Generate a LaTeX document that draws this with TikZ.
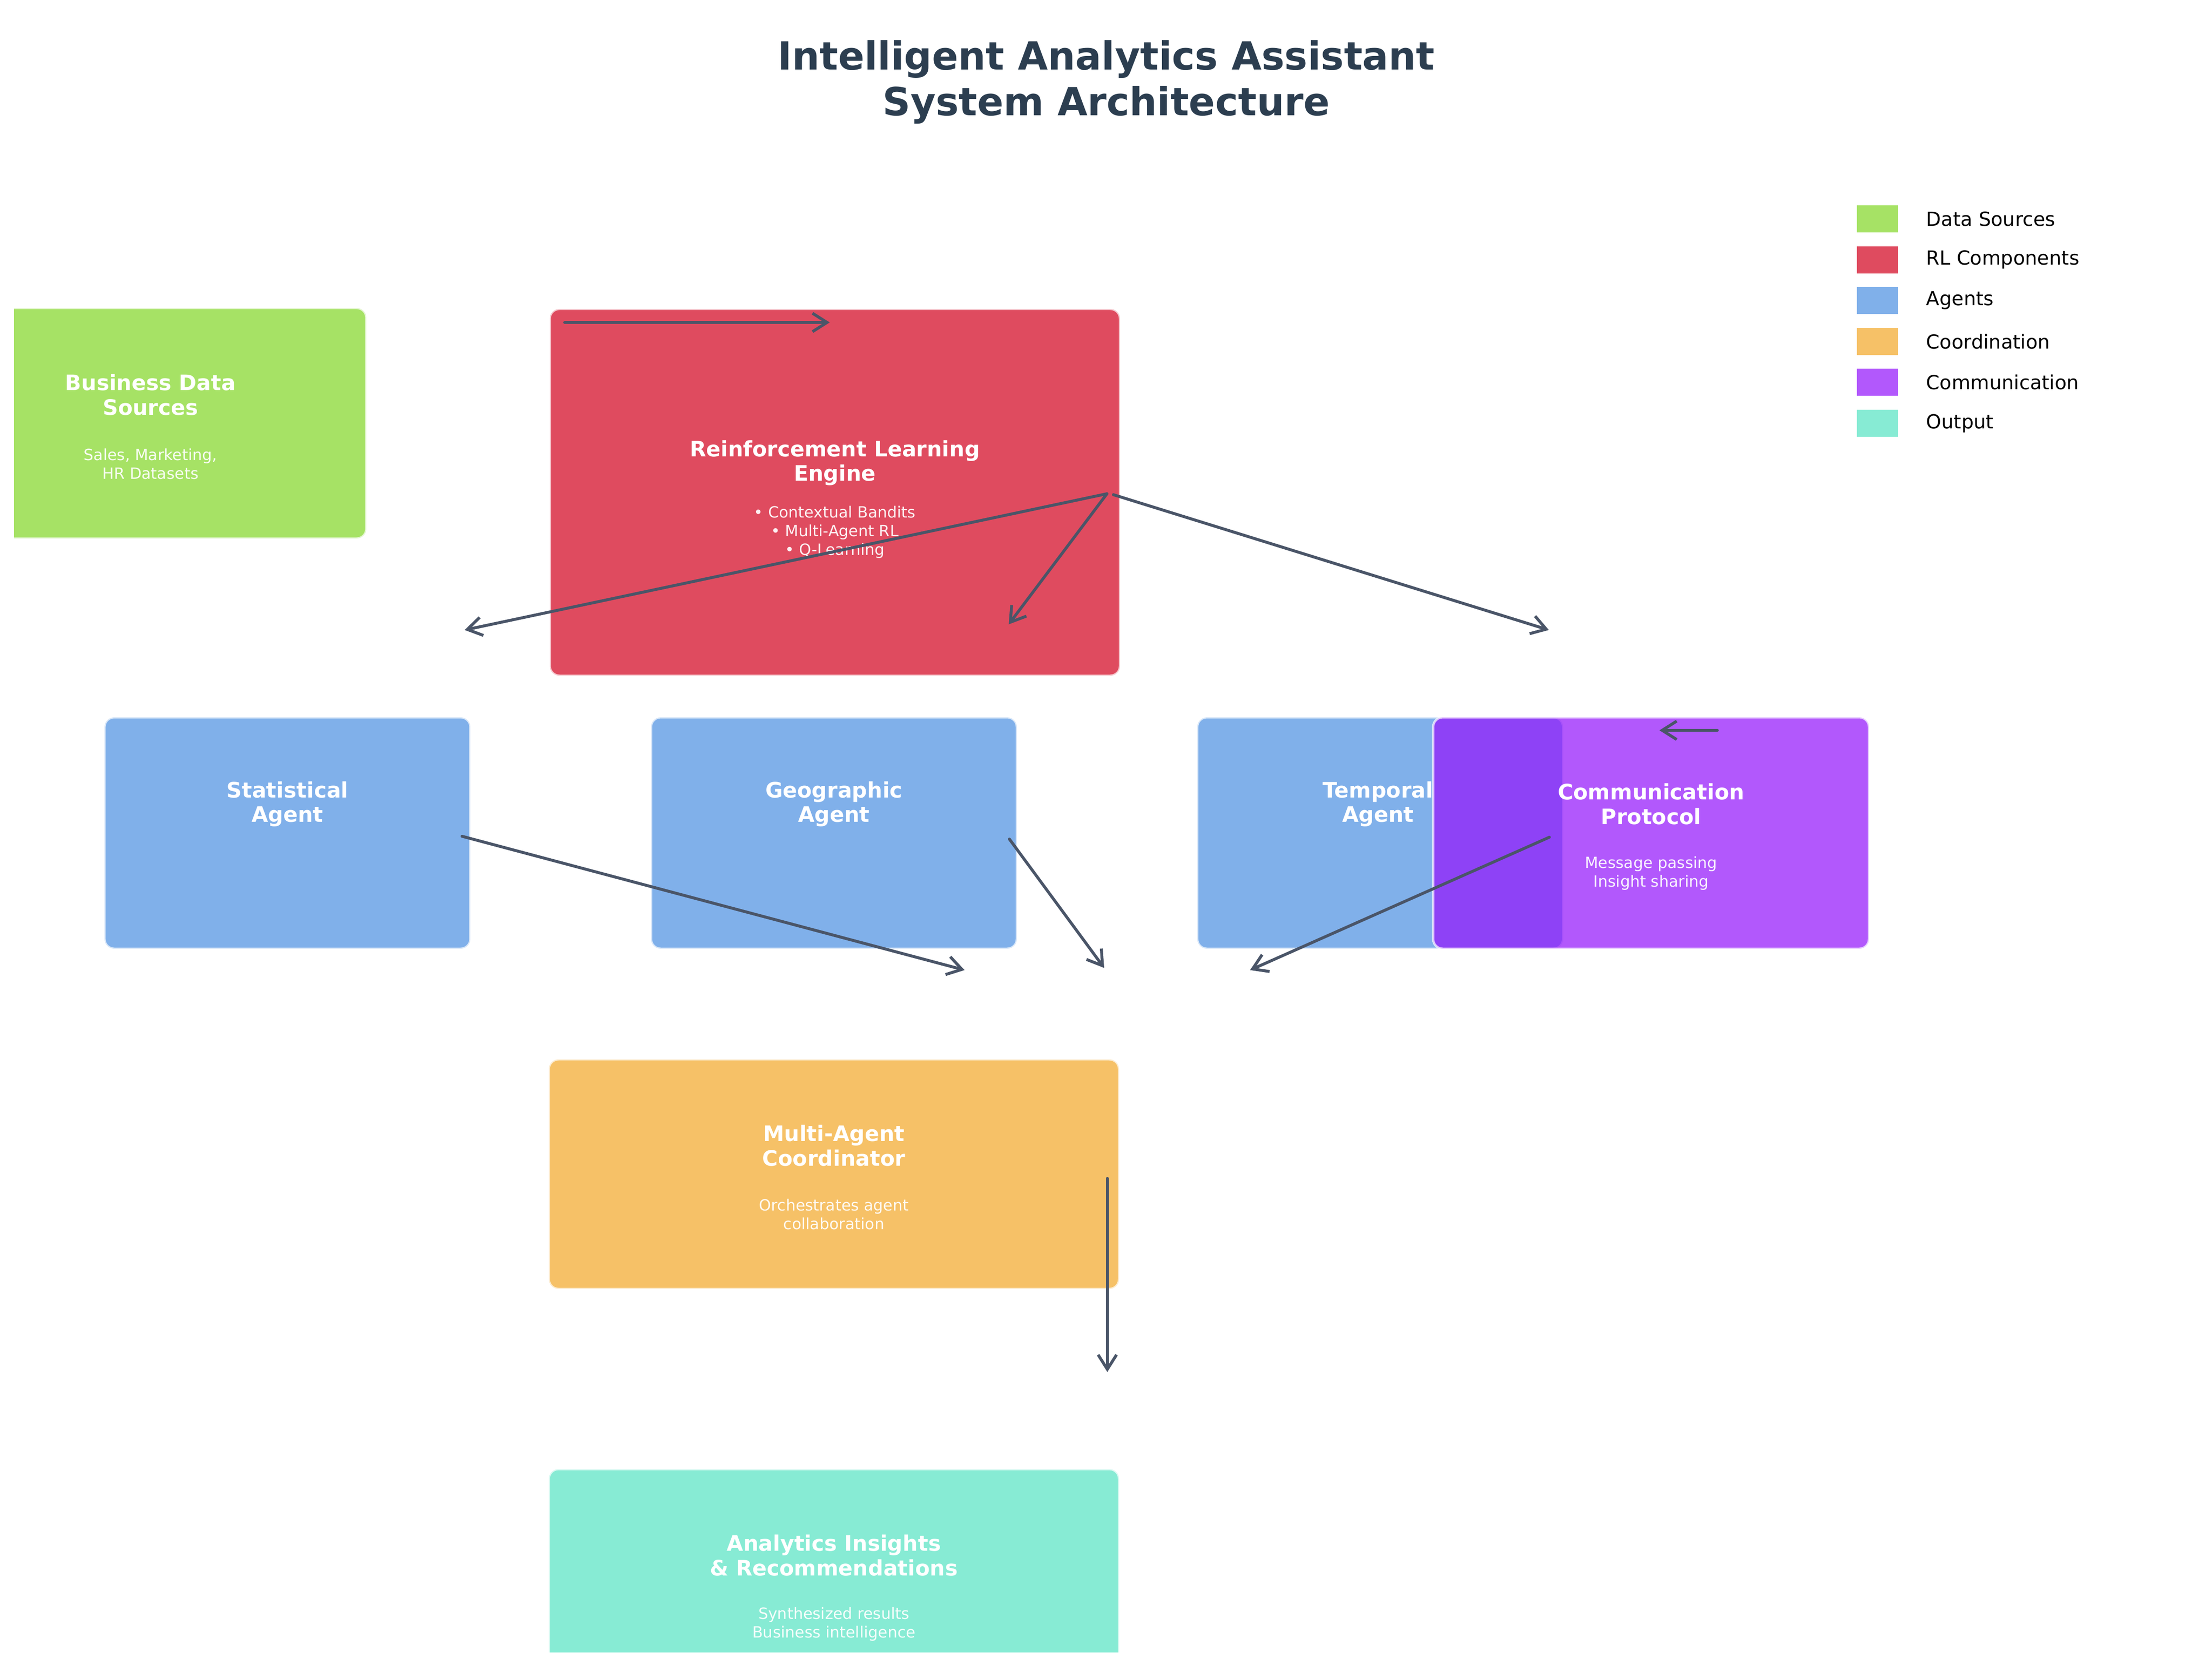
\documentclass[tikz,border=0pt]{standalone}
\usepackage{fontspec}
\setmainfont{DejaVu Sans}
\usepackage{tikz}
\usetikzlibrary{arrows.meta, positioning}
\definecolor{datacolor}{RGB}{166, 226, 101}
\definecolor{rlcolor}{RGB}{223, 75, 95}
\definecolor{agentcolor}{RGB}{128, 176, 234}
\definecolor{coordcolor}{RGB}{246, 193, 103}
\definecolor{commcolor}{RGB}{148, 24, 251}
\definecolor{outputcolor}{RGB}{135, 235, 212}
\definecolor{arrowcolor}{RGB}{74, 85, 104}
\definecolor{titlecolor}{RGB}{44, 62, 80}
\tikzset{
  box/.style={draw=white, draw opacity=0.7, line width=1.2pt, rounded corners=5pt, inner sep=0pt},
  boxtitle/.style={font=\fontsize{11}{12.6}\selectfont\bfseries, text=white, align=center, inner sep=0pt},
  boxsub/.style={font=\fontsize{8}{9.6}\selectfont, text=white, text opacity=0.92, align=center, inner sep=0pt},
  legendbox/.style={minimum width=0.745cm, minimum height=0.491cm, inner sep=0pt},
  legendtext/.style={font=\fontsize{10}{12}\selectfont, anchor=west, inner sep=0pt},
  flow/.style={-{Straight Barb[length=7.5pt, width=9.5pt]}, line width=1.5pt, line cap=round, color=arrowcolor}
}

\begin{document}
\begin{tikzpicture}
        \useasboundingbox (0,0) rectangle (40.132,-30.226);

        % Title
        \node[font=\fontsize{20}{23.5}\selectfont\bfseries, text=titlecolor, align=center] (title) at (20.07, -1.49) {Intelligent Analytics Assistant\\System Architecture};

        % Boxes (clipped to the plot area)
        \begin{scope}
        \clip (0.254, 0) rectangle (40.132, -29.98);
        \node[box, fill=datacolor, minimum width=7.832cm, minimum height=4.183cm] (data) at (2.730, -7.679) {};
        \node[box, fill=rlcolor, minimum width=10.346cm, minimum height=6.655cm] (rl) at (15.147, -8.932) {};

        \node[box, fill=agentcolor, minimum width=6.638cm, minimum height=4.199cm] (stat) at (5.215, -15.113) {};
        \node[box, fill=agentcolor, minimum width=6.638cm, minimum height=4.199cm] (geo) at (15.130, -15.113) {};
        \node[box, fill=agentcolor, minimum width=6.638cm, minimum height=4.199cm] (temp) at (25.040, -15.113) {};
        \node[box, fill=commcolor, fill opacity=0.72, minimum width=7.908cm, minimum height=4.199cm] (comm) at (29.955, -15.113) {};

        \node[box, fill=coordcolor, minimum width=10.346cm, minimum height=4.166cm] (coord) at (15.130, -21.302) {};
        \node[box, fill=outputcolor, minimum width=10.346cm, minimum height=4.166cm] (out) at (15.130, -28.736) {};
        \end{scope}

        % Box texts
        \node[boxtitle] (datatitle) at ([yshift=0.516cm]data.center) {Business Data\\Sources};
        \node[boxsub] (datasub) at ([yshift=-0.737cm]data.center) {Sales, Marketing,\\HR Datasets};

        \node[boxtitle] (rltitle) at ([yshift=0.533cm]rl.center) {Reinforcement Learning\\Engine};
        \node[boxsub] (rlsub) at ([yshift=-0.720cm]rl.center) {• Contextual Bandits\\• Multi-Agent RL\\• Q-Learning};

        \node[boxtitle] (stattitle) at ([yshift=0.525cm]stat.center) {Statistical\\Agent};
        \node[boxtitle] (geotitle) at ([yshift=0.525cm]geo.center) {Geographic\\Agent};
        \node[boxtitle] (temptitle) at ([xshift=-0.04cm, yshift=0.525cm]temp.center) {Temporal\\Agent};

        \node[boxtitle] (commtitle) at ([yshift=0.525cm]comm.center) {Communication\\Protocol};
        \node[boxsub] (commsub) at ([yshift=-0.728cm]comm.center) {Message passing\\Insight sharing};

        \node[boxtitle] (coordtitle) at ([yshift=0.516cm]coord.center) {Multi-Agent\\Coordinator};
        \node[boxsub] (coordsub) at ([yshift=-0.728cm]coord.center) {Orchestrates agent\\collaboration};

        \node[boxtitle] (outtitle) at ([yshift=0.516cm]out.center) {Analytics Insights\\\& Recommendations};
        \node[boxsub] (outsub) at ([yshift=-0.728cm]out.center) {Synthesized results\\Business intelligence};

        % Arrow end points
        \coordinate (datain) at (10.245, -5.850);
        \coordinate (rlin) at (15.054, -5.850);
        \coordinate (rlout) at (20.083, -8.958);
        \coordinate (rloutb) at (20.200, -8.975);
        \coordinate (statin) at (8.430, -11.430);
        \coordinate (geoin) at (18.300, -11.328);
        \coordinate (tempin) at (28.100, -11.430);
        \coordinate (commout) at (31.157, -13.250);
        \coordinate (commin) at (30.107, -13.250);
        \coordinate (statout) at (8.382, -15.172);
        \coordinate (geoout) at (18.313, -15.223);
        \coordinate (commdown) at (28.110, -15.189);
        \coordinate (coordinl) at (17.500, -17.600);
        \coordinate (coordinm) at (20.032, -17.560);
        \coordinate (coordinr) at (22.680, -17.600);
        \coordinate (coordout) at (20.090, -21.378);
        \coordinate (outin) at (20.090, -24.892);

        % Arrows
        \draw[flow] (datain) -- (rlin);
        \draw[flow] (rlout) -- (statin);
        \draw[flow] (rlout) -- (geoin);
        \draw[flow] (rloutb) -- (tempin);
        \draw[flow] (commout) -- (commin);
        \draw[flow] (statout) -- (coordinl);
        \draw[flow] (geoout) -- (coordinm);
        \draw[flow] (commdown) -- (coordinr);
        \draw[flow] (coordout) -- (outin);

        % Legend
        \node[legendbox, fill=datacolor] (legdata) at (34.061, -3.971) {};
        \node[legendtext] (legdatatext) at (34.942, -3.971) {Data Sources};
        \node[legendbox, fill=rlcolor] (legrl) at (34.061, -4.713) {};
        \node[legendtext] (legrltext) at (34.942, -4.713) {RL Components};
        \node[legendbox, fill=agentcolor] (legagent) at (34.061, -5.454) {};
        \node[legendtext] (legagenttext) at (34.942, -5.454) {Agents};
        \node[legendbox, fill=coordcolor] (legcoord) at (34.061, -6.196) {};
        \node[legendtext] (legcoordtext) at (34.942, -6.196) {Coordination};
        \node[legendbox, fill=commcolor, fill opacity=0.72] (legcomm) at (34.061, -6.938) {};
        \node[legendtext] (legcommtext) at (34.942, -6.938) {Communication};
        \node[legendbox, fill=outputcolor] (legout) at (34.061, -7.679) {};
        \node[legendtext] (legouttext) at (34.942, -7.679) {Output};

    \end{tikzpicture}
\end{document}
